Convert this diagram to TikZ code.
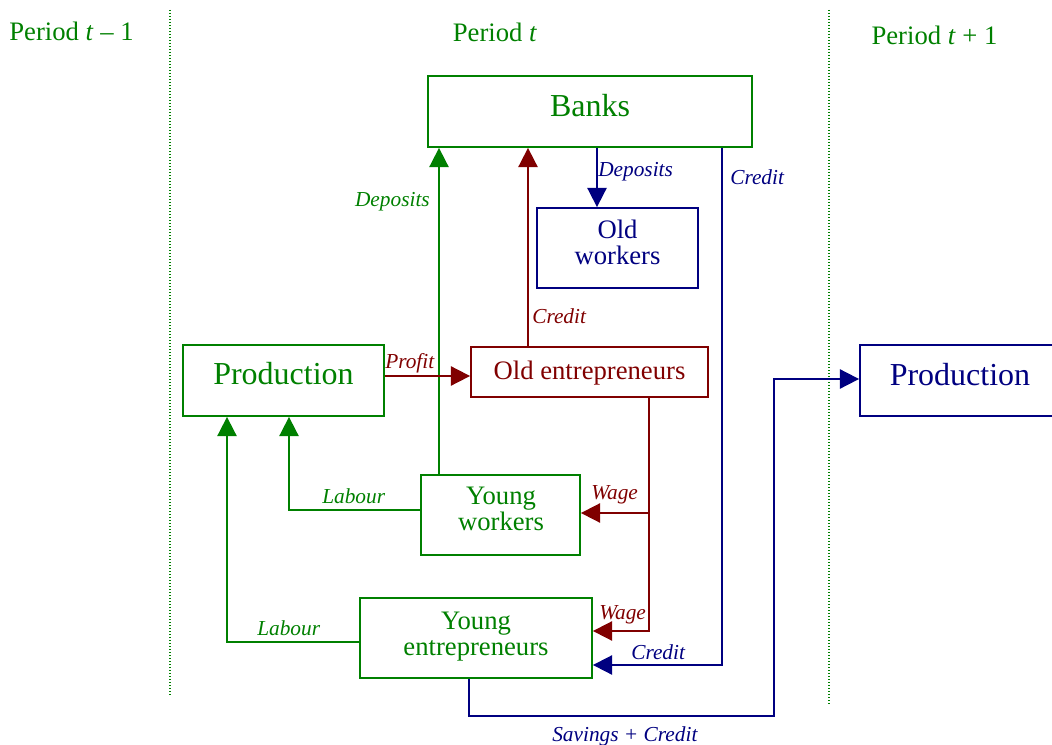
\documentclass[tikz,border=0pt]{standalone}
\usepackage{fontspec}
\setmainfont{Liberation Serif}
\usetikzlibrary{arrows.meta}
\definecolor{cgreen}{RGB}{0,128,0}
\definecolor{cred}{RGB}{128,0,0}
\definecolor{cblue}{RGB}{0,0,128}
\begin{document}
\begin{tikzpicture}[x=0.75pt,y=-0.75pt,
  box/.style={draw, line width=1.35pt, inner sep=0pt, rectangle},
  boxtxt/.style={inner sep=0pt, align=center, font=\fontsize{20}{19.5}\selectfont},
  bigtxt/.style={inner sep=0pt, font=\fontsize{24}{28}\selectfont},
  lbl/.style={inner sep=0pt, font=\itshape\fontsize{16}{19}\selectfont},
  flow/.style={line width=1.35pt, -{Triangle[width=14.5pt,length=14.5pt]}},
  divider/.style={cgreen, line width=1.1pt, dash pattern=on 1pt off 1.25pt},
  per/.style={cgreen, inner sep=0pt, font=\fontsize{20}{24}\selectfont, anchor=base}
]
\useasboundingbox (0,0) rectangle (1052,745);
\clip (0,0) rectangle (1052,745);

% period dividers
\draw[divider] (170,10) -- (170,695);
\draw[divider] (829,10) -- (829,705);

% period titles
\node[per] (p1) at (71.5,40.5) {Period \textit{t} – 1};
\node[per] (p2) at (495,41.5) {Period \textit{t}};
\node[per] (p3) at (934.5,45) {Period \textit{t} + 1};

% boxes
\node[box, cgreen, minimum width=243pt, minimum height=53.25pt] (banks) at (590,111.5) {};
\node[bigtxt, cgreen] (banksT) at (590,105.5) {Banks};

\node[box, cblue, minimum width=120.75pt, minimum height=60pt] (ow) at (617.5,248) {};
\node[boxtxt, cblue] (owT) at (617.5,242.5) {Old\\workers};

\node[box, cred, minimum width=177.75pt, minimum height=37.5pt] (oe) at (589.5,372) {};
\node[boxtxt, cred] (oeT) at (589.5,373.5) {Old entrepreneurs};

\node[box, cgreen, minimum width=150.75pt, minimum height=53.25pt] (prodL) at (283.5,380.5) {};
\node[bigtxt, cgreen] (prodLT) at (283.5,373.5) {Production};

\node[box, cblue, minimum width=150.75pt, minimum height=53.25pt] (prodR) at (960.5,380.5) {};
\node[bigtxt, cblue] (prodRT) at (960,374.5) {Production};

\node[box, cgreen, minimum width=119.25pt, minimum height=60pt] (yw) at (500.5,515) {};
\node[boxtxt, cgreen] (ywT) at (501,508.5) {Young\\workers};

\node[box, cgreen, minimum width=174pt, minimum height=60pt] (ye) at (476,638) {};
\node[boxtxt, cgreen] (yeT) at (476,636.5) {Young\\entrepreneurs};

% helper coordinates
\coordinate (wj) at (649,513);
\coordinate (sv) at (774,716);

% connectors
\draw[flow, cgreen] (yw.north -| 439,0) -- (banks.south -| 439,0);
\draw[flow, cred] (oe.north -| 528,0) -- (banks.south -| 528,0);
\draw[flow, cblue] (banks.south -| 597,0) -- (ow.north -| 597,0);
\draw[flow, cblue] (banks.south -| 722,0) |- (ye.east |- 0,665);
\draw[flow, cred] (prodL.east |- 0,376) -- (oe.west |- 0,376);
\draw[flow, cred] (oe.south -| wj) |- (ye.east |- 0,631);
\draw[flow, cred] (wj) -- (yw.east |- wj);
\draw[flow, cgreen] (yw.west |- 0,510) -| (prodL.south -| 289,0);
\draw[flow, cgreen] (ye.west |- 0,642) -| (prodL.south -| 227,0);
\draw[flow, cblue] (ye.south -| 469,0) |- (sv) |- (prodR.west |- 0,379);

% labels
\node[lbl, cgreen, anchor=base east] (lDep) at (430,207) {Deposits};
\node[lbl, cred, anchor=base west] (lCr1) at (532,323) {Credit};
\node[lbl, cblue, anchor=base west] (lDep2) at (598,177) {Deposits};
\node[lbl, cblue, anchor=base west] (lCr2) at (730,185) {Credit};
\node[lbl, cred, anchor=base west] (lProf) at (385,368) {Profit};
\node[lbl, cgreen, anchor=base west] (lLab1) at (322,503) {Labour};
\node[lbl, cgreen, anchor=base west] (lLab2) at (257,635) {Labour};
\node[lbl, cred, anchor=base west] (lW1) at (591,499) {Wage};
\node[lbl, cred, anchor=base west] (lW2) at (599,619) {Wage};
\node[lbl, cblue, anchor=base west] (lCr3) at (631,659) {Credit};
\node[lbl, cblue, anchor=base west] (lSav) at (552,741) {Savings + Credit};
\end{tikzpicture}
\end{document}
